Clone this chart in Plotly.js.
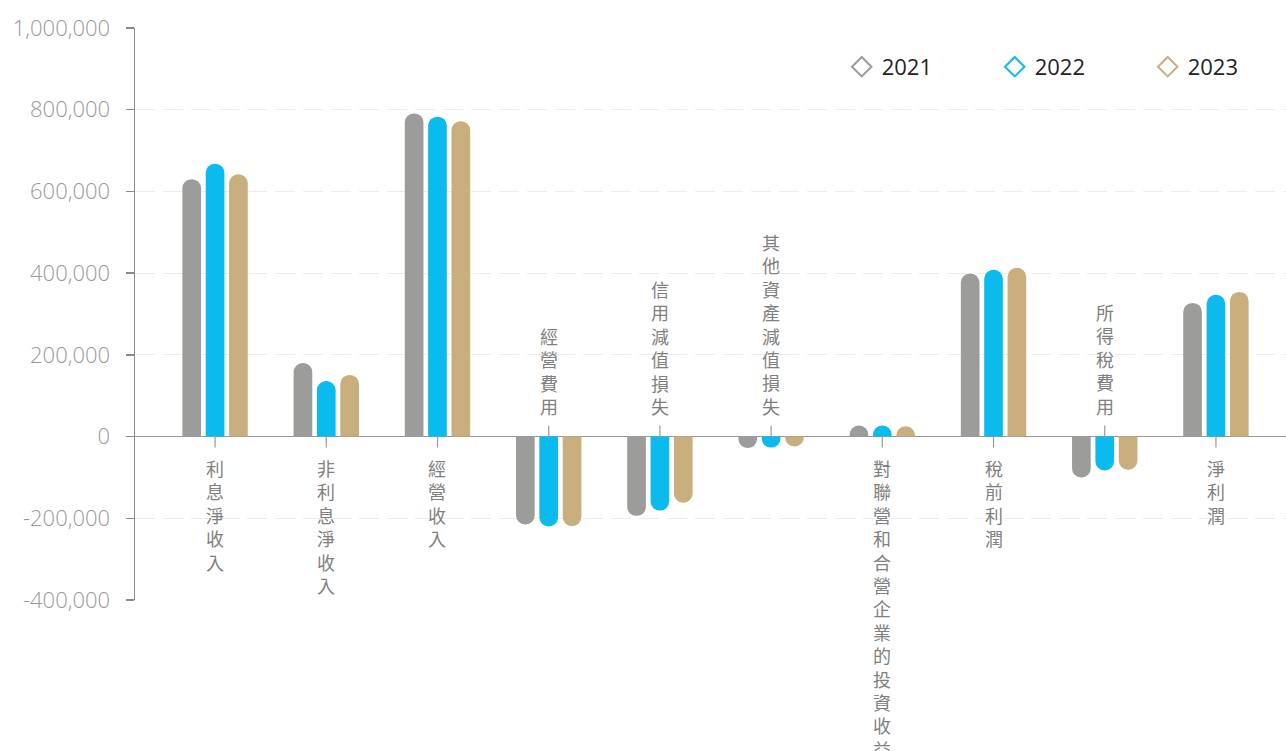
<!DOCTYPE html>
<html>
<head>
<meta charset="utf-8">
<script src="https://cdn.plot.ly/plotly-3.0.1.min.js"></script>
<style>html,body{margin:0;padding:0;background:#fff;overflow:hidden;}#chart{width:1286px;height:751px;}</style>
</head>
<body>
<div id="chart"></div>
<script>
const categories = ['利息淨收入','非利息淨收入','經營收入','經營費用','信用減值損失','其他資產減值損失','對聯營和合營企業的投資收益','稅前利潤','所得稅費用','淨利潤'];
const years = ['2021','2022','2023'];
const v2021 = [630000,180000,791000,-215000,-194000,-28000,27000,399000,-100000,327000];
const v2022 = [668000,136000,783000,-220000,-181000,-27000,27000,408000,-83000,347000];
const v2023 = [642000,151000,772000,-219000,-162000,-24000,25000,413000,-81000,354000];
const yTicks = [-400000,-200000,0,200000,400000,600000,800000,1000000];
const yTickText = ['-400,000','-200,000','0','200,000','400,000','600,000','800,000','1,000,000'];
const colors = ['#9c9c9a','#0bbbed','#c8af7d'];

const series = [v2021, v2022, v2023];
const idx = categories.map((c,i)=>i);
const traces = [];
series.forEach((vals,k)=>{
  traces.push({type:'bar', x:idx, y:vals, name:years[k], showlegend:false,
    marker:{color:colors[k], cornerradius:'50%', line:{width:0}}, hoverinfo:'skip'});
});
years.forEach((yr,k)=>{
  traces.push({type:'scatter', mode:'markers', x:[null], y:[null], name:yr, showlegend:true,
    marker:{symbol:'diamond-open', size:15, color:colors[k], line:{width:2, color:colors[k]}}});
});

// label side follows the sign of the group's values
const annotations = categories.map((c,i)=>{
  const neg = v2021[i] < 0;
  return {x:i, y:0, xref:'x', yref:'y', text:c.split('').join('<br>'), showarrow:false,
    xanchor:'center', yanchor: neg ? 'bottom' : 'top', yshift: neg ? 16 : -16,
    font:{family:'"Noto Sans CJK TC", "Noto Sans CJK SC", sans-serif', size:18, color:'#808080'}};
});
const shapes = categories.map((c,i)=>{
  const neg = v2021[i] < 0;
  return {type:'line', xref:'x', yref:'y', x0:i, x1:i, ysizemode:'pixel', yanchor:0,
    y0:0, y1: neg ? 11 : -11, line:{color:'#999', width:1.2}};
});

const layout = {
  width:1286, height:751,
  margin:{l:135, r:0, t:28, b:151, autoexpand:false},
  paper_bgcolor:'#fff', plot_bgcolor:'#fff',
  barmode:'group', bargap:0.37, bargroupgap:0.2,
  showlegend:true,
  legend:{orientation:'h', x:0.614, y:0.932, xanchor:'left', yanchor:'middle',
    entrywidth:108, entrywidthmode:'pixels', itemwidth:30,
    font:{family:'"Open Sans", sans-serif', size:22, color:'#222'}, bgcolor:'rgba(0,0,0,0)'},
  xaxis:{type:'linear', range:[-0.72, 9.63], showticklabels:false, showgrid:false, zeroline:false,
    showline:false, ticks:'', fixedrange:true},
  yaxis:{range:[-400000,1000000], tickvals:yTicks, ticktext:yTickText,
    showline:true, linecolor:'#8a8a8a', linewidth:1.5,
    ticks:'outside', ticklen:8, tickcolor:'#8a8a8a', tickwidth:1.5,
    showgrid:true, gridcolor:'#ececec', gridwidth:1, griddash:'20px,8px',
    zeroline:true, zerolinecolor:'#999', zerolinewidth:1.6,
    tickfont:{family:'"Open Sans", sans-serif', size:22, color:'#999', weight:300},
    ticklabelstandoff:11},
  annotations:annotations,
  shapes:shapes
};
Plotly.newPlot('chart', traces, layout, {displayModeBar:false, staticPlot:true});
</script>
</body>
</html>
